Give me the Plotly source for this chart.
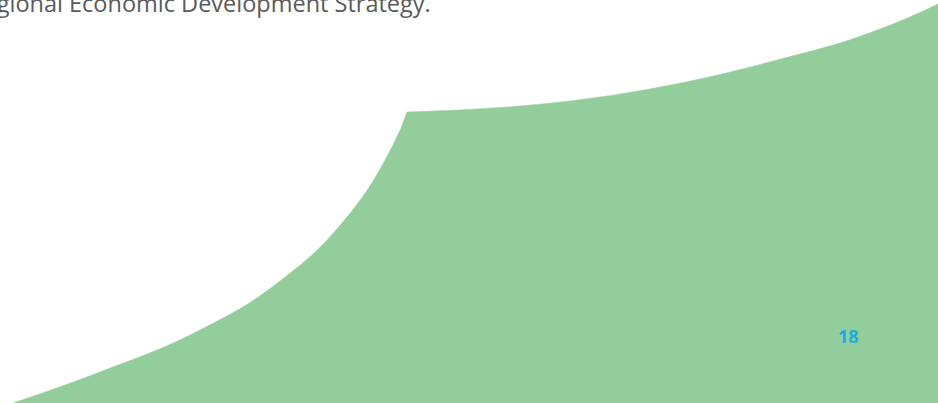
import plotly.graph_objects as go

W, H = 938, 403

# Green decorative shape: height of its outline above the bottom edge of the page
# lower-left curved edge
curve_x = [13, 100, 200, 280, 347, 393, 407]
curve_h = [0, 31, 73, 122, 186, 258, 291]
# upper edge rising to the right
top_x = [407, 600, 800, 880, 938]
top_h = [291, 306, 349, 374, 399]

body_text = "Regional Economic Development Strategy."
page_number = "18"

GREEN = "#93CD9B"

fig = go.Figure()
for xs, hs in ((curve_x, curve_h), (top_x, top_h)):
    fig.add_trace(go.Scatter(
        x=xs, y=hs, mode="lines", fill="tozeroy", fillcolor=GREEN,
        line=dict(color=GREEN, width=0.5, shape="spline", smoothing=1.3),
        hoverinfo="skip", showlegend=False,
    ))

fig.add_annotation(
    x=433, y=H - 21, xref="x", yref="y", text=body_text, showarrow=False,
    xanchor="right", yanchor="bottom",
    font=dict(family="Open Sans", size=23.5, color="#5a5a5a"),
)
fig.add_annotation(
    x=848, y=H - 336, xref="x", yref="y", text="<b>" + page_number + "</b>",
    showarrow=False, xanchor="center", yanchor="middle",
    font=dict(family="Open Sans", size=18, color="#1AABE2"),
)

fig.update_xaxes(range=[0, W], visible=False, fixedrange=True)
fig.update_yaxes(range=[0, H], visible=False, fixedrange=True)
fig.update_layout(
    width=W, height=H, margin=dict(l=0, r=0, t=0, b=0),
    paper_bgcolor="white", plot_bgcolor="white",
)

fig.write_html("out.html", config={"displayModeBar": False},
               post_script="document.body.style.margin='0';")
